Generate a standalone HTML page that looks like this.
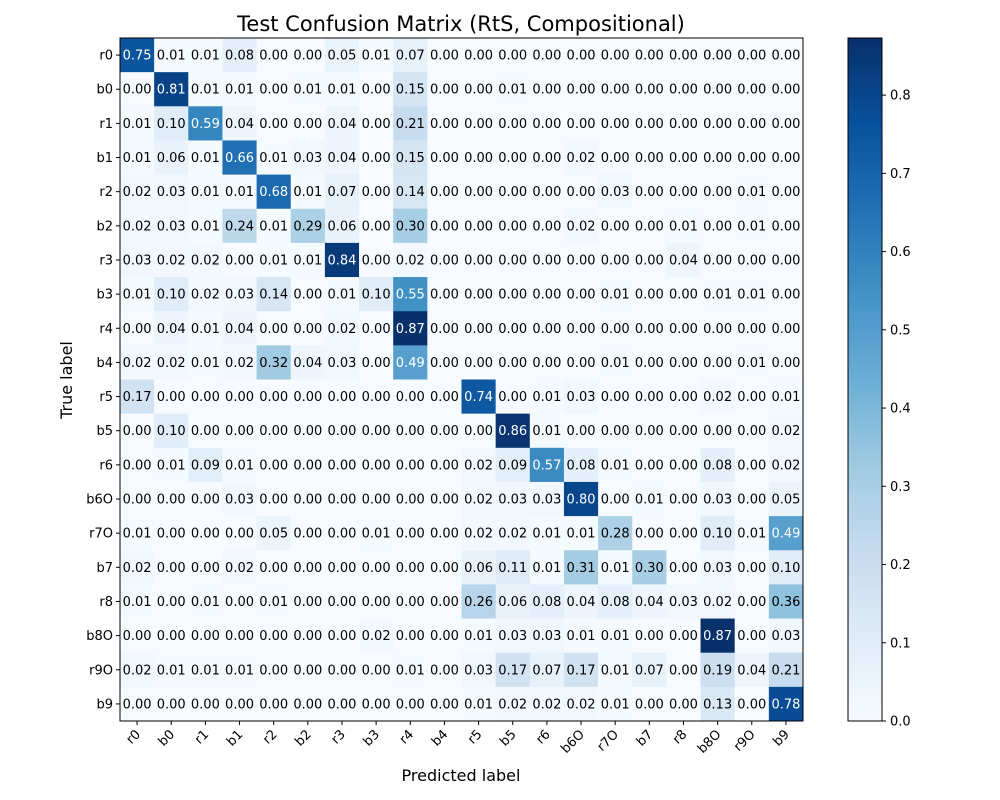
<!DOCTYPE html>
<html><head><meta charset="utf-8"><style>
body{margin:0;background:#fff}
svg{display:block;font-family:"DejaVu Sans","Liberation Sans",sans-serif}
</style></head><body>
<svg id="c" width="1000" height="800"></svg>
<script>
const labels=["r0","b0","r1","b1","r2","b2","r3","b3","r4","b4","r5","b5","r6","b6O","r7O","b7","r8","b8O","r9O","b9"];
const matrix=[
[.75,.01,.01,.08,0,0,.05,.01,.07,0,0,0,0,0,0,0,0,0,0,0],
[0,.81,.01,.01,0,.01,.01,0,.15,0,0,.01,0,0,0,0,0,0,0,0],
[.01,.10,.59,.04,0,0,.04,0,.21,0,0,0,0,0,0,0,0,0,0,0],
[.01,.06,.01,.66,.01,.03,.04,0,.15,0,0,0,0,.02,0,0,0,0,0,0],
[.02,.03,.01,.01,.68,.01,.07,0,.14,0,0,0,0,0,.03,0,0,0,.01,0],
[.02,.03,.01,.24,.01,.29,.06,0,.30,0,0,0,0,.02,0,0,.01,0,.01,0],
[.03,.02,.02,0,.01,.01,.84,0,.02,0,0,0,0,0,0,0,.04,0,0,0],
[.01,.10,.02,.03,.14,0,.01,.10,.55,0,0,0,0,0,.01,0,0,.01,.01,0],
[0,.04,.01,.04,0,0,.02,0,.87,0,0,0,0,0,0,0,0,0,0,0],
[.02,.02,.01,.02,.32,.04,.03,0,.49,0,0,0,0,0,.01,0,0,0,.01,0],
[.17,0,0,0,0,0,0,0,0,0,.74,0,.01,.03,0,0,0,.02,0,.01],
[0,.10,0,0,0,0,0,0,0,0,0,.86,.01,0,0,0,0,0,0,.02],
[0,.01,.09,.01,0,0,0,0,0,0,.02,.09,.57,.08,.01,0,0,.08,0,.02],
[0,0,0,.03,0,0,0,0,0,0,.02,.03,.03,.80,0,.01,0,.03,0,.05],
[.01,0,0,0,.05,0,0,.01,0,0,.02,.02,.01,.01,.28,0,0,.10,.01,.49],
[.02,0,0,.02,0,0,0,0,0,0,.06,.11,.01,.31,.01,.30,0,.03,0,.10],
[.01,0,.01,0,.01,0,0,0,0,0,.26,.06,.08,.04,.08,.04,.03,.02,0,.36],
[0,0,0,0,0,0,0,.02,0,0,.01,.03,.03,.01,.01,0,0,.87,0,.03],
[.02,.01,.01,.01,0,0,0,0,.01,0,.03,.17,.07,.17,.01,.07,0,.19,.04,.21],
[0,0,0,0,0,0,0,0,0,0,.01,.02,.02,.02,.01,0,0,.13,0,.78]];
const cbTicks=[0,0.1,0.2,0.3,0.4,0.5,0.6,0.7,0.8];
const VMAX=0.873;
const stops=["#f7fbff","#deebf7","#c6dbef","#9ecae1","#6baed6","#4292c6","#2171b5","#08519c","#08306b"].map(h=>[1,3,5].map(i=>parseInt(h.substr(i,2),16)));
function cmap(v){let t=Math.max(0,Math.min(1,v/VMAX))*8;let i=Math.min(7,Math.floor(t));let f=t-i;const a=stops[i],b=stops[i+1];return "rgb("+a.map((x,k)=>Math.round(x+(b[k]-x)*f)).join(",")+")";}
const X0=120,Y0=38,S=683,n=labels.length,cw=S/n;
const xs=i=>X0+i*cw, ys=i=>Y0+i*cw;
const svg=document.getElementById('c');const NS="http://www.w3.org/2000/svg";
function el(t,a,p){const e=document.createElementNS(NS,t);for(const k in a)e.setAttribute(k,a[k]);(p||svg).appendChild(e);return e;}
function txt(s,a){const e=el('text',a);e.textContent=s;return e;}
let t=txt("Test Confusion Matrix (RtS, Compositional)",{x:461,y:31,'font-size':21,'text-anchor':'middle'});


for(let r=0;r<n;r++)for(let c=0;c<n;c++){const v=matrix[r][c];
 const rc=el('rect',{x:xs(c),y:ys(r),width:cw+0.5,height:cw+0.5,fill:cmap(v)});
 
 
 const tx=txt(v.toFixed(2),{x:xs(c)+cw/2,y:ys(r)+cw/2+4.5,'font-size':13,'text-anchor':'middle',fill:v>VMAX/2?'#fff':'#000'});
 
 
}
el('rect',{x:X0,y:Y0,width:S,height:S,fill:'none',stroke:'#000','stroke-width':1});
for(let i=0;i<n;i++){
 el('line',{x1:X0-4,x2:X0,y1:ys(i)+cw/2,y2:ys(i)+cw/2,stroke:'#000'});
 const yl=txt(labels[i],{x:X0-7,y:ys(i)+cw/2+4.5,'font-size':13,'text-anchor':'end'});
 
 
 const cx=xs(i)+cw/2;
 el('line',{x1:cx,x2:cx,y1:Y0+S,y2:Y0+S+4,stroke:'#000'});
 const xl=txt(labels[i],{x:cx+4,y:Y0+S+14,'font-size':13,'text-anchor':'end',transform:`rotate(-45 ${cx+4} ${Y0+S+14})`});
 
 
}
t=txt("Predicted label",{x:461,y:781,'font-size':16,'text-anchor':'middle'});


t=txt("True label",{x:72,y:380,'font-size':16,'text-anchor':'middle',transform:'rotate(-90 72 380)'});


// colorbar
const CX=848,CW=34,CY0=38,CH=683;
const defs=el('defs',{});const g=el('linearGradient',{id:'gr',x1:0,y1:1,x2:0,y2:0},defs);
for(let i=0;i<9;i++)el('stop',{offset:i/8,'stop-color':`rgb(${stops[i].join(',')})`},g);
const cb=el('rect',{x:CX,y:CY0,width:CW,height:CH,fill:'url(#gr)',stroke:'#000'});


const cy=v=>CY0+CH-v/VMAX*CH;
cbTicks.forEach(v=>{el('line',{x1:CX+CW,x2:CX+CW+4,y1:cy(v),y2:cy(v),stroke:'#000'});
 const l=txt(v.toFixed(1),{x:CX+CW+8,y:cy(v)+4.5,'font-size':13});
 
 });
</script>
</body></html>
